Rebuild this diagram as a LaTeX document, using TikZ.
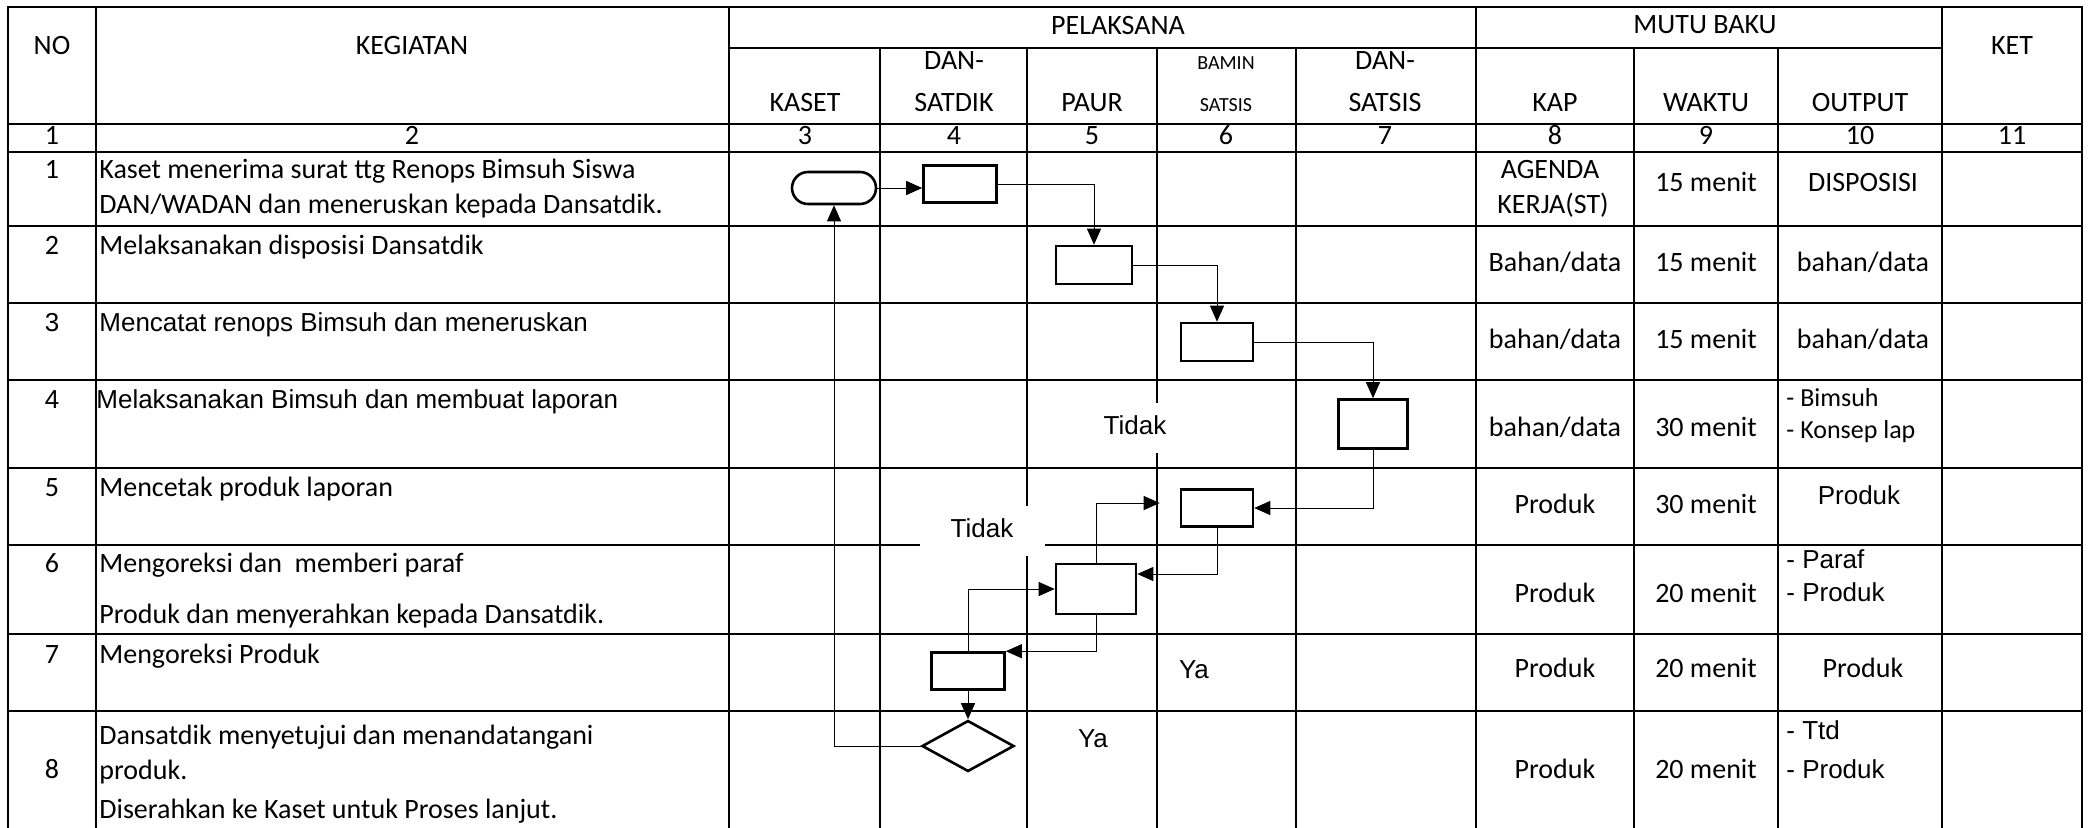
\documentclass[tikz,border=0pt]{standalone}
\usepackage{fontspec}
\setmainfont{Carlito}
\newfontfamily\arialfont{Liberation Sans}
\newcommand{\ari}{\arialfont\fontsize{13pt}{16pt}\selectfont}
\newcommand{\kecil}{\fontsize{10pt}{12pt}\selectfont}
\usetikzlibrary{shapes.geometric, arrows.meta}

\begin{document}
\begin{tikzpicture}[x=0.5pt, y=-0.5pt,
    every node/.style={inner sep=0pt, text height=0.68em, text depth=0pt,
                       font=\fontsize{14pt}{17pt}\selectfont},
    grid/.style={line width=1.35pt, line cap=rect},
    teks/.style={anchor=west},
    proses/.style={draw, rectangle, line width=1.3pt, text height=0pt},
    jawab/.style={fill=white, font=\ari, minimum height=25pt},
    panah/.style={-{Triangle[length=8pt, width=7pt]}, line width=0.45pt}]

    \useasboundingbox (0,0) rectangle (2092,827);

    % tabel
    \foreach \y in {7,124,152,226,303,380,468,545,634,711}
        \draw[grid] (8,\y) -- (2082,\y);
    \draw[grid] (729,48) -- (1942,48);
    \foreach \x in {8,96,729,1476,1942,2082}
        \draw[grid] (\x,7) -- (\x,827);
    \foreach \x in {880,1027,1157,1296,1634,1778}
        \draw[grid] (\x,48) -- (\x,827);

    % kepala tabel
    \foreach \t/\x/\y [count=\i] in {NO/52/48, KEGIATAN/412/48, PELAKSANA/1118/28,
            MUTU BAKU/1705/27, KET/2012/48, KASET/805/105, DAN-/954/63,
            SATDIK/954/105, PAUR/1092/105, DAN-/1385/63, SATSIS/1385/105,
            KAP/1555/105, WAKTU/1706/105, OUTPUT/1860/105}
        \node (head\i) at (\x,\y) {\t};
    \node[font=\kecil] (bamin) at (1226,63) {BAMIN};
    \node[font=\kecil] (satsis) at (1226,105) {SATSIS};

    \foreach \x [count=\i] in {52,412,805,954,1092,1226,1385,1555,1706,1860,2012}
        \node (num\i) at (\x,138) {\i};

    % nomor dan kegiatan
    \foreach \y/\f [count=\i] in {172/\relax, 248/\relax, 325/\ari, 402/\ari,
            490/\relax, 566/\relax, 657/\relax, 772/\relax}
        \node (no\i) at (52,\y) {\f\i};

    \node[teks] (keg1a) at (99,172) {Kaset menerima surat ttg Renops Bimsuh Siswa};
    \node[teks] (keg1b) at (99,207) {DAN/WADAN dan meneruskan kepada Dansatdik.};
    \node[teks] (keg2) at (99,248) {Melaksanakan disposisi Dansatdik};
    \node[teks, font=\ari] (keg3) at (99,325) {Mencatat renops Bimsuh dan meneruskan};
    \node[teks, font=\ari] (keg4) at (96,402) {Melaksanakan Bimsuh dan membuat laporan};
    \node[teks] (keg5) at (99,490) {Mencetak produk laporan};
    \node[teks] (keg6a) at (99,566) {Mengoreksi dan\ \ memberi paraf};
    \node[teks] (keg6b) at (99,617) {Produk dan menyerahkan kepada Dansatdik.};
    \node[teks] (keg7) at (99,657) {Mengoreksi Produk};
    \node[teks] (keg8a) at (99,738) {Dansatdik menyetujui dan menandatangani};
    \node[teks] (keg8b) at (99,773) {produk.};
    \node[teks] (keg8c) at (99,812) {Diserahkan ke Kaset untuk Proses lanjut.};

    % mutu baku
    \node (kap1a) at (1550,172) {AGENDA};
    \node (kap1b) at (1553,207) {KERJA(ST)};
    \foreach \t/\y [count=\i from 2] in {{Bahan/data}/265, {bahan/data}/342,
            {bahan/data}/430, Produk/507, Produk/596, Produk/671, Produk/772}
        \node (kap\i) at (1555,\y) {\t};
    \foreach \t/\y [count=\i] in {15/185, 15/265, 15/342, 30/430, 30/507,
            20/596, 20/671, 20/772}
        \node (waktu\i) at (1706,\y) {\t\ menit};

    \node (out1) at (1863,185) {DISPOSISI};
    \node (out2) at (1863,265) {bahan/data};
    \node (out3) at (1863,342) {bahan/data};
    \node[teks, font=\fontsize{13pt}{16pt}\selectfont] (out4a) at (1786,400) {- Bimsuh};
    \node[teks, font=\fontsize{13pt}{16pt}\selectfont] (out4b) at (1786,432) {- Konsep lap};
    \node[font=\ari] (out5) at (1859,498) {Produk};
    \node[teks, font=\ari] (out6a) at (1786,562) {- Paraf};
    \node[teks, font=\ari] (out6b) at (1786,595) {- Produk};
    \node (out7) at (1863,671) {Produk};
    \node[teks, font=\ari] (out8a) at (1786,733) {- Ttd};
    \node[teks, font=\ari] (out8b) at (1786,772) {- Produk};

    % keterangan alur
    \node[jawab, minimum width=35pt] (tidak1) at (1135,428) {Tidak};
    \node[jawab, minimum width=62.5pt] (tidak2) at (982,531) {Tidak};
    \node[jawab, minimum width=36pt, minimum height=24.5pt] (ya1) at (1194,672) {Ya};
    \node[font=\ari] (ya2) at (1093,741) {Ya};

    % bagan alir
    \node[proses, rounded corners=8pt, minimum width=42pt, minimum height=16pt] (mulai) at (834,188) {};
    \node[proses, minimum width=36.5pt, minimum height=18.5pt] (p1) at (960,184) {};
    \node[proses, minimum width=38pt, minimum height=19pt] (p2) at (1094,265) {};
    \node[proses, minimum width=36pt, minimum height=19pt] (p3) at (1217,342) {};
    \node[proses, minimum width=34.5pt, minimum height=24.5pt] (p4) at (1373,424) {};
    \node[proses, minimum width=36pt, minimum height=18.5pt] (p5) at (1217,508) {};
    \node[proses, minimum width=40pt, minimum height=25pt] (p6) at (1096,589) {};
    \node[proses, minimum width=36.5pt, minimum height=18.5pt] (p7) at (968,671) {};
    \node[draw, diamond, line width=1.3pt, text height=0pt,
          minimum width=46pt, minimum height=25.5pt] (cek) at (968,746) {};

    \draw[panah] (mulai.east) -- (mulai.east -| p1.west);
    \draw[panah] (p1.east) -| (p2.north);
    \draw[panah] (p2.east) -| (p3.north);
    \draw[panah] (p3.east) -| (p4.north);
    \draw[panah] (p4.south) |- (p5.east);
    \draw[panah] (p5.south) |- ([yshift=7.5pt]p6.east);
    \draw[panah, shorten >=10pt] (p6.north) |- ([yshift=2.5pt]p5.west);
    \draw[panah] (p6.south) |- (p7.north east);
    \draw[panah] (p7.north) |- (p6.west);
    \draw[panah] (p7.south) -- (cek.north);
    \draw[panah] (cek.west) -| (mulai.south);
\end{tikzpicture}
\end{document}
